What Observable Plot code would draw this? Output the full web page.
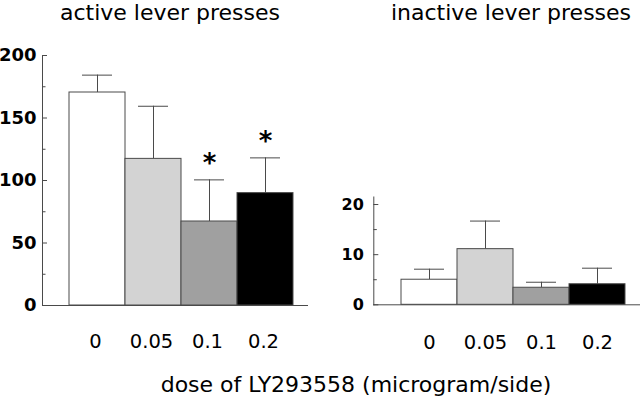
<!DOCTYPE html>
<html><head><meta charset="utf-8">
<script src="https://cdn.jsdelivr.net/npm/d3@7"></script>
<script src="https://cdn.jsdelivr.net/npm/@observablehq/plot@0.6"></script>
<style>
html,body{margin:0;padding:0;background:#fff;}
#wrap{position:relative;width:640px;height:407px;overflow:hidden;font-family:"DejaVu Sans",sans-serif;color:#000;}
.t{position:absolute;white-space:nowrap;font-size:22px;line-height:26px;transform:translateX(-50%);}
.p{position:absolute;top:0;}
</style></head><body>
<div id="wrap">
  <div class="p" id="left" style="left:0px"></div>
  <div class="p" id="right" style="left:320px"></div>
  <div class="t" style="left:170px;top:0px">active lever presses</div>
  <div class="t" style="left:511px;top:0px">inactive lever presses</div>
  <div class="t" style="left:356px;top:372px">dose of LY293558 (microgram/side)</div>
</div>
<script>
// ---- data ----
const doses = ["0", "0.05", "0.1", "0.2"];
const activeMean = [170.4, 117.3, 67.2, 89.9];
const activeSem = [13.9, 42.1, 33.3, 28.2];
const activeSig = ["", "", "*", "*"];
const inactiveMean = [5.0, 11.1, 3.4, 4.1];
const inactiveSem = [2.1, 5.6, 1.1, 3.2];
const inactiveSig = ["", "", "", ""];
const activeTicks = [0, 50, 100, 150, 200];
const activeMinor = [25, 75, 125, 175];
const inactiveTicks = [0, 10, 20];
const inactiveMinor = [5, 15];

// ---- style ----
const barFills = ["#ffffff", "#d3d3d3", "#a0a0a0", "#000000"];
const ink = "#4a4a4a";

function panel({mean, sem, sig, yDomain, ticks, minor, marginLeft, marginRight, marginTop, marginBottom, xRange, labelSize, labelPad, xPad, xdx}) {
  const data = doses.map((d, i) => ({dose: d, mean: mean[i], upper: mean[i] + sem[i], sig: sig[i]}));
  return Plot.plot({
    width: 320, height: 360,
    marginLeft, marginRight, marginTop, marginBottom,
    style: {fontFamily: "DejaVu Sans, sans-serif", overflow: "visible", background: "transparent"},
    x: {type: "band", domain: doses, range: xRange, padding: 0},
    y: {domain: yDomain},
    color: {type: "ordinal", domain: doses, range: barFills},
    marks: [
      Plot.ruleX(data, {x: "dose", y1: "mean", y2: "upper", stroke: ink, strokeWidth: 1}),
      Plot.tickY(data, {x: "dose", y: "upper", stroke: ink, strokeWidth: 1, insetLeft: 13, insetRight: 13}),
      Plot.barY(data, {x: "dose", y: "mean", fill: "dose", stroke: ink, strokeWidth: 1}),
      Plot.text(data.filter(d => d.sig), {x: "dose", y: "upper", text: "sig", dy: -8, lineAnchor: "bottom", fontSize: 26, fontWeight: "bold", fill: "#000"}),
      Plot.ruleY([0], {stroke: ink}),
      Plot.frame({anchor: "left", stroke: ink}),
      Plot.axisY(ticks, {tickSize: 5, dx: 5, tickFormat: () => "", stroke: ink, label: null}),
      Plot.axisY(minor, {tickSize: 3.5, dx: 3.5, tickFormat: () => "", stroke: ink, label: null}),
      Plot.axisY(ticks, {tickSize: 0, tickPadding: labelPad, fontSize: labelSize, fontWeight: "bold", fill: "#000", label: null}),
      Plot.axisX(doses, {tickSize: 0, tickPadding: xPad, fontSize: 19.5, fill: "#000", dx: xdx, label: null})
    ]
  });
}

document.getElementById("left").appendChild(panel({
  mean: activeMean, sem: activeSem, sig: activeSig,
  yDomain: [0, 200], ticks: activeTicks, minor: activeMinor,
  marginLeft: 42, marginRight: 12, marginTop: 55, marginBottom: 55,
  xRange: [67.7, 294.3], labelSize: 18, labelPad: 6, xPad: 29, xdx: -2
}));
document.getElementById("right").appendChild(panel({
  mean: inactiveMean, sem: inactiveSem, sig: inactiveSig,
  yDomain: [0, 21.5], ticks: inactiveTicks, minor: inactiveMinor,
  marginLeft: 53.3, marginRight: 0, marginTop: 196.5, marginBottom: 55.7,
  xRange: [79.3, 306], labelSize: 16, labelPad: 10, xPad: 30, xdx: 0
}));
</script>
</body></html>
